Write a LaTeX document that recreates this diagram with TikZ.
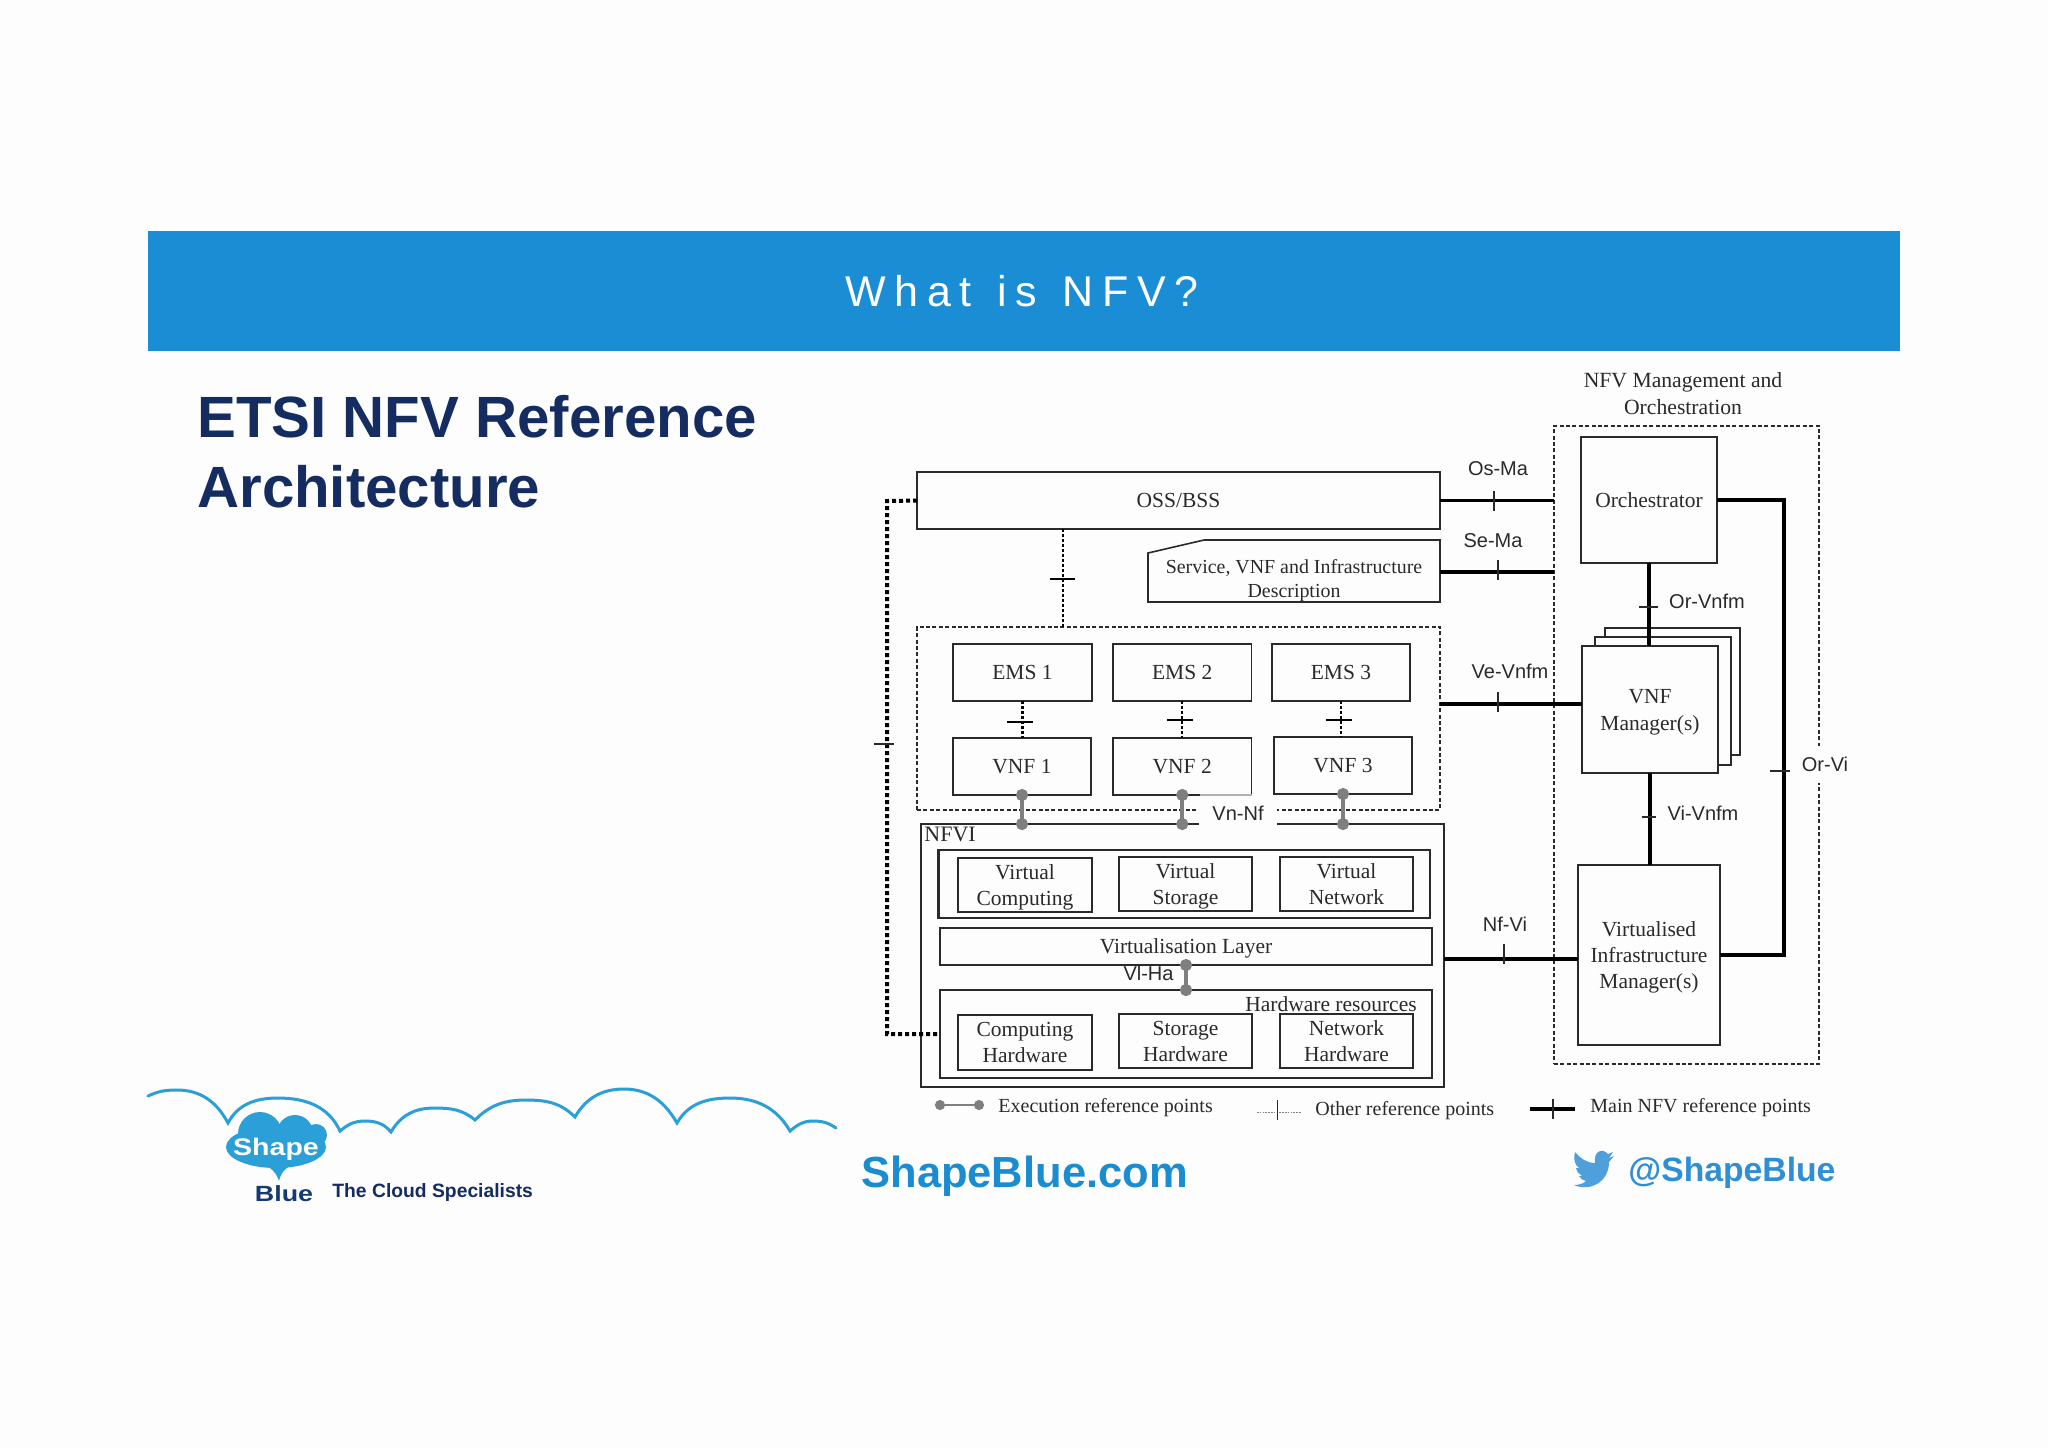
\documentclass[tikz,border=0pt]{standalone}
\usepackage{fontspec}
\usepackage{graphicx}
\setmainfont{Liberation Sans}
\newfontfamily\dserif{Liberation Serif}
\newfontfamily\titlef[LetterSpace=20,WordSpace=1.25]{Liberation Sans}
\usetikzlibrary{arrows.meta}
\definecolor{bgc}{HTML}{FDFDFD}
\definecolor{hdr}{HTML}{1B8DD5}
\definecolor{navy}{HTML}{142C60}
\definecolor{sky}{HTML}{1A8CD0}
\definecolor{sky2}{HTML}{2E8ED6}
\definecolor{cloudc}{HTML}{2A9FD8}
\definecolor{birdc}{HTML}{4F9FDC}
\definecolor{ink}{HTML}{2A2A2A}
\definecolor{execc}{HTML}{7F7F7F}
\newcommand{\fpx}[2]{\fontsize{#1}{#2}\selectfont}
\newcommand{\pbox}[7][]{%
  \pgfmathsetmacro\mw{(#5-#3)*0.5}%
  \pgfmathsetmacro\mh{(#6-#4)*0.5}%
  \node[bx,#1,minimum width=\mw pt,minimum height=\mh pt] (#2) at ({(#3+#5)/2},{(#4+#6)/2}) {};
  \node[bxt,#1,draw=none,fill=none] (#2-t) at ([yshift=-1.1pt]#2.center) {\strut #7\strut};}
\newcommand{\pboxe}[6][]{%
  \pgfmathsetmacro\mw{(#5-#3)*0.5}%
  \pgfmathsetmacro\mh{(#6-#4)*0.5}%
  \node[bx,#1,minimum width=\mw pt,minimum height=\mh pt] (#2) at ({(#3+#5)/2},{(#4+#6)/2}) {};}
\tikzset{
  bx/.style={draw=ink,fill=bgc,line width=0.8pt,inner sep=0pt,outer sep=0pt},
  bxt/.style={inner sep=0pt,outer sep=0pt,align=center,text=ink,font=\dserif\fpx{10.75}{13}},
  ghost/.style={draw=none,fill=none},
  nofill/.style={fill=none},
  dashbox/.style={draw=ink,line width=0.75pt,dash pattern=on 2pt off 1.2pt,fill=none},
  heavybox/.style={line width=1.05pt},
  mainref/.style={draw=black,line width=2.4pt},
  mainthin/.style={draw=black,line width=1.9pt},
  tickbar/.style={draw=black,line width=1pt},
  dotref/.style={draw=black,line width=1.1pt,dash pattern=on 1.25pt off 1.25pt},
  bigdot/.style={draw=black,line width=2pt,dash pattern=on 2pt off 1.5pt},
  tickmark/.style={draw=ink,line width=0.8pt},
  exec/.style={draw=execc,line width=1.8pt,{Circle[length=6pt]}-{Circle[length=6pt]},shorten <=-3pt,shorten >=-3pt},
  lab/.style={text=ink,font=\fpx{10}{12},inner sep=0pt},
  serif/.style={text=ink,font=\dserif\fpx{10}{13},inner sep=0pt,align=center},
}
\begin{document}
\begin{tikzpicture}[x=0.5pt,y=-0.5pt]
\useasboundingbox (0,0) rectangle (2048,1448);
\fill[bgc] (0,0) rectangle (2048,1448);
% header
\fill[hdr] (148,231) rectangle (1900,351);
\node[text=white,font=\titlef\fpx{21.5}{25},inner sep=0pt] (title) at (1022,291) {What is NFV?};
\node[text=navy,font=\bfseries\fpx{29.1}{35},anchor=west,inner sep=0pt] (h1) at (197,417) {ETSI NFV Reference};
\node[text=navy,font=\bfseries\fpx{29.1}{35},anchor=west,inner sep=0pt] (h2) at (197,487) {Architecture};
% cloud line
\draw[cloudc,line width=1.5pt,line cap=round]
  (148,1096) to[out=25,in=180] (177,1090) to[out=0,in=118] (228,1123)
  to[out=62,in=180] (278,1098) to[out=0,in=115] (340,1131)
  to[out=40,in=180] (365,1121) to[out=0,in=130] (391,1132)
  to[out=60,in=180] (434,1108) to[out=0,in=140] (475,1120)
  to[out=45,in=180] (526,1100) to[out=0,in=135] (575,1117)
  to[out=60,in=180] (624,1089) to[out=0,in=120] (677,1123)
  to[out=60,in=180] (730,1098) to[out=0,in=120] (790,1131)
  to[out=40,in=180] (813,1121) to[out=0,in=145] (836,1128);
% logo
\fill[cloudc] (276,1147) ellipse [x radius=50,y radius=21];
\fill[cloudc] (260,1134) circle [radius=22];
\fill[cloudc] (295,1133) circle [radius=18];
\fill[cloudc] (316,1135) circle [radius=11];
\fill[cloudc] (254,1160) .. controls (266,1164) and (276,1170) .. (279,1181) .. controls (281,1170) and (290,1164) .. (304,1160) -- cycle;
\node[text=white,font=\bfseries\fpx{12}{15},inner sep=0pt] (shape) at (276,1149) {\scalebox{1.19}[1]{Shape}};
\node[text=navy!85!sky,font=\bfseries\fpx{11}{13},inner sep=0pt] (blue) at (284,1194) {\scalebox{1.22}[1]{Blue}};
\node[text=navy,font=\bfseries\fpx{9.65}{12},anchor=west,inner sep=0pt] (spec) at (332,1192) {The Cloud Specialists};
\node[text=sky,font=\bfseries\fpx{21.75}{26},anchor=west,inner sep=0pt] (web) at (861,1176) {ShapeBlue.com};
\node[text=sky2,font=\bfseries\fpx{16.85}{20},anchor=west,inner sep=0pt] (tw) at (1628,1173) {@ShapeBlue};
\fill[birdc] (1595,1163) .. controls (1587,1163) and (1580,1158) .. (1575,1152)
  .. controls (1573,1160) and (1575,1165) .. (1579,1168) -- (1576,1168)
  .. controls (1577,1172) and (1579,1174) .. (1582,1176) -- (1579,1176)
  .. controls (1580,1179) and (1583,1180) .. (1586,1181)
  .. controls (1583,1184) and (1578,1185) .. (1574,1185)
  .. controls (1590,1192) and (1609,1182) .. (1609,1162)
  -- (1614,1156) -- (1609,1158) -- (1613,1152) -- (1608,1154)
  .. controls (1602,1147) and (1593,1152) .. (1595,1163) -- cycle;
\begin{scope}[yshift=-0.5pt]
% management box
\pboxe[dashbox]{mano}{1554}{425}{1819}{1063}
\node[serif,font=\dserif\fpx{10.83}{13.5}] (manot) at (1683,393) {NFV Management and\\Orchestration};
% stacked managers
\pboxe{vnfmc}{1605}{627}{1740}{754}
\pboxe{vnfmb}{1595}{636}{1731}{764}
\pbox{vnfm}{1582}{645}{1718}{772}{VNF\\[0.3pt]Manager(s)}
\pbox{orch}{1581}{436}{1717}{562}{Orchestrator}
\pbox{vim}{1578}{864}{1720}{1044}{Virtualised\\Infrastructure\\Manager(s)}
% left stack
\pbox{oss}{917}{471}{1440}{528}{OSS/BSS}
\pbox[ghost,font=\dserif\fpx{9.95}{12}]{note}{1148}{553.5}{1440}{601}{Service, VNF and Infrastructure\\Description}
\draw[draw=ink,line width=0.8pt] (note.south west) -- (note.west |- 0,552) -- (1204,539) -- (note.east |- 0,539) -- (note.south east) -- cycle;
\pboxe[dashbox]{vnfarea}{917}{626}{1440}{809}
\pbox{ems1}{953}{643}{1092}{700}{EMS 1}
\pbox{ems2}{1113}{643}{1251.5}{700}{EMS 2}
\pbox{ems3}{1272}{643}{1410}{700}{EMS 3}
\pbox{vnf1}{953}{737}{1091}{794}{VNF 1}
\pbox{vnf2}{1113}{737}{1251.5}{794}{VNF 2}
\pbox[heavybox]{vnf3}{1274}{736}{1412}{793}{VNF 3}
\draw[draw=gray!60,line width=0.9pt] (1200,794) -- (vnf2.south east);
% NFVI
\pboxe[nofill]{nfvi}{921}{823}{1444}{1086}
\node[text=ink,font=\dserif\fpx{11}{13},anchor=west,inner sep=0pt] (nfvil) at (924,833) {NFVI};
\pboxe[heavybox,nofill]{vgroup}{938.5}{849}{1430}{917}
\pbox[heavybox]{vc}{958}{857}{1092}{911}{Virtual\\Computing}
\pbox[heavybox]{vs}{1119}{856}{1252}{910}{Virtual\\Storage}
\pbox[heavybox]{vn}{1280}{856}{1413}{910}{Virtual\\Network}
\pbox[heavybox]{vl}{940}{927}{1432}{964}{Virtualisation Layer}
\pboxe[heavybox,nofill]{hw}{940}{989}{1432}{1077}
\pbox[heavybox]{ch}{958}{1014}{1092}{1069}{Computing\\Hardware}
\pbox[heavybox]{sh}{1119}{1013}{1252}{1067}{Storage\\Hardware}
\pbox[heavybox]{nh}{1280}{1013}{1413}{1067}{Network\\Hardware}
\node[text=ink,font=\dserif\fpx{10.75}{13},inner sep=0pt] (hwl) at (1331,1003) {Hardware resources};
% label gap over area and nfvi
\node[fill=bgc,inner sep=0pt,minimum width=39pt,minimum height=16pt,text=ink,font=\fpx{10}{12}] (vnnf) at (1238,812.5) {Vn-Nf};
% coordinates for connector ends
\coordinate (cOr) at (1784,499);
\coordinate (cBig) at (887,500);
\coordinate (cVe) at (0,703);
\coordinate (cNf) at (0,958);
\coordinate (cSe) at (0,571);
% main connectors
\draw[mainthin] (oss.east) -- (oss.east -| mano.west);
\draw[mainthin] (note.east |- cSe) -- (mano.west |- cSe);
\draw[mainthin] (vnfarea.east |- cVe) -- (vnfm.west |- cVe);
\draw[mainthin] (nfvi.east |- cNf) -- (vim.west |- cNf);
\draw[mainref] (orch.south) -- (orch.south |- vnfm.north);
\draw[mainref] (vnfm.south) -- (vnfm.south |- vim.north);
\draw[mainref] (orch.east) -| (cOr) |- (vim.east);
% other reference connectors
\draw[dotref] (1063,528) -- (1063,626);
\draw[dotref] (ems1.south) -- (ems1.south |- vnf1.north);
\draw[dotref] (ems2.south) -- (ems2.south |- vnf2.north);
\draw[dotref] (1341,700) -- (1341,736);
\draw[bigdot] (oss.west) -- (cBig) |- (hw.west);
% exec connectors
\draw[exec] (vnf1.south) -- (vnf1.south |- nfvi.north);
\draw[exec] (vnf2.south) -- (vnf2.south |- nfvi.north);
\draw[exec] (vnf3.south) -- (vnf3.south |- nfvi.north);
\draw[exec] (vl.south) -- (vl.south |- hw.north);
% ticks
\draw[tickbar] (1050,578) -- (1075,578);
\draw[tickbar] (1007,721) -- (1033,721);
\draw[tickbar] (1167,719) -- (1193,719);
\draw[tickbar] (1326,719) -- (1352,719);
\draw[tickmark] (874,743) -- (894,743);
\draw[tickmark] (1494,490) -- (1494,510);
\draw[tickmark] (1498,559) -- (1498,579);
\draw[tickmark] (1498,691) -- (1498,711);
\draw[tickmark] (1504,943) -- (1504,963);
\draw[tickmark] (1639,606) -- (1658,606);
\draw[tickmark] (1642,816) -- (1656,816);
\draw[tickmark] (1770,770) -- (1790,770);
% labels
\node[lab] (lOs) at (1498,467.5) {Os-Ma};
\node[lab] (lSe) at (1493,539.5) {Se-Ma};
\node[lab] (lVe) at (1510,670.5) {Ve-Vnfm};
\node[lab] (lNf) at (1505,923.5) {Nf-Vi};
\node[lab] (lOr) at (1707,600.5) {Or-Vnfm};
\node[lab] (lVi) at (1703,812.5) {Vi-Vnfm};
\node[lab,fill=bgc,minimum width=23pt,minimum height=18.5pt] (lOv) at (1825,763.5) {Or-Vi};
\node[lab] (lHa) at (1148.5,972.5) {Vl-Ha};
% legend
\coordinate (legA) at (940,1104);
\coordinate (legB) at (979,1104);
\draw[exec,line width=1.2pt,{Circle[length=5pt]}-{Circle[length=5pt]},shorten <=-2.5pt,shorten >=-2.5pt] (legA) -- (legB);
\node[serif,anchor=west] (legt1) at (998,1107) {Execution reference points};
\coordinate (legC) at (1257,1111);
\coordinate (legD) at (1301,1111);
\draw[draw=gray,line width=0.5pt,dash pattern=on 0.8pt off 0.6pt] (legC) -- (legD);
\draw[tickmark] (1277.5,1099) -- (1277.5,1119);
\node[serif,anchor=west] (legt2) at (1315,1109.5) {Other reference points};
\coordinate (legE) at (1530,1108);
\coordinate (legF) at (1575,1108);
\draw[mainref] (legE) -- (legF);
\draw[tickmark] (1553,1098) -- (1553,1118);
\node[serif,anchor=west] (legt3) at (1590,1107) {Main NFV reference points};
\end{scope}
\end{tikzpicture}
\end{document}
